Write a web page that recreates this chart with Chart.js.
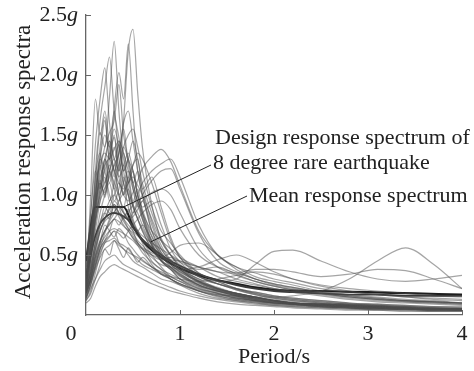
<!DOCTYPE html>
<html>
<head>
<meta charset="utf-8">
<script src="https://cdn.jsdelivr.net/npm/chart.js"></script>
<style>
  html,body{margin:0;padding:0;background:#fff}
  #wrap{width:474px;height:371px}
</style>
</head>
<body>
<div id="wrap"><canvas id="c" width="474" height="371"></canvas></div>
<script>
/* ---------- data ---------- */
const periods = [0,0.05,0.1,0.15,0.2,0.25,0.3,0.35,0.4,0.45,0.5,0.55,0.6,0.7,0.8,0.9,1.0,1.2,1.4,1.6,1.8,2.0,2.2,2.5,2.8,3.1,3.4,3.7,4.0];

// single record spectra (grey), one row per ground motion, values in g
const spectra = [
  [0.30,0.52,0.85,1.10,1.02,1.30,1.48,1.25,1.62,2.20,2.38,1.85,1.40,0.92,0.62,0.50,0.40,0.30,0.22,0.18,0.15,0.12,0.10,0.09,0.08,0.07,0.06,0.05,0.05],
  [0.25,0.62,1.10,1.52,1.40,1.82,2.28,1.70,1.30,1.12,0.92,0.80,0.70,0.55,0.45,0.38,0.30,0.22,0.18,0.14,0.12,0.10,0.09,0.08,0.07,0.06,0.05,0.05,0.04],
  [0.32,0.70,1.00,1.32,1.62,1.30,1.72,2.02,1.80,2.26,1.70,1.20,1.00,0.70,0.52,0.42,0.35,0.25,0.20,0.16,0.13,0.11,0.10,0.08,0.07,0.06,0.06,0.05,0.05],
  [0.20,0.50,1.20,1.62,1.90,2.15,1.70,1.48,1.20,1.00,0.80,0.70,0.62,0.50,0.40,0.32,0.28,0.20,0.16,0.13,0.11,0.09,0.08,0.07,0.06,0.05,0.05,0.04,0.04],
  [0.26,0.82,1.42,1.80,2.06,1.60,1.30,1.42,1.10,0.90,0.76,0.70,0.60,0.45,0.38,0.30,0.26,0.20,0.15,0.12,0.10,0.09,0.08,0.07,0.06,0.05,0.05,0.04,0.04],
  [0.20,1.00,1.80,1.50,1.70,1.40,1.20,1.00,0.86,0.80,0.70,0.60,0.55,0.42,0.34,0.30,0.25,0.18,0.14,0.12,0.10,0.08,0.07,0.06,0.05,0.05,0.04,0.04,0.04],
  [0.30,0.55,0.92,1.20,1.40,1.52,1.62,1.92,1.50,1.30,1.20,1.00,0.85,0.60,0.45,0.38,0.30,0.23,0.18,0.15,0.12,0.10,0.09,0.08,0.07,0.06,0.05,0.05,0.05],
  [0.20,0.30,0.50,0.70,0.80,0.90,1.00,1.10,1.00,0.95,1.02,1.12,1.22,1.32,1.38,1.28,1.08,0.70,0.50,0.40,0.32,0.28,0.25,0.20,0.17,0.15,0.13,0.12,0.10],
  [0.15,0.25,0.40,0.55,0.62,0.70,0.80,0.75,0.82,0.86,0.92,1.00,1.10,1.20,1.26,1.30,1.15,0.75,0.50,0.40,0.35,0.30,0.27,0.22,0.19,0.17,0.15,0.14,0.13],
  [0.25,0.60,0.90,1.10,1.00,1.20,1.30,1.20,1.40,1.50,1.55,1.40,1.20,0.90,0.70,0.60,0.50,0.35,0.28,0.22,0.18,0.15,0.13,0.11,0.09,0.08,0.07,0.06,0.06],
  [0.30,0.60,1.00,1.30,1.50,1.40,1.70,1.30,1.10,1.00,0.90,0.80,0.70,0.55,0.45,0.40,0.33,0.25,0.20,0.16,0.13,0.11,0.10,0.08,0.07,0.06,0.06,0.05,0.05],
  [0.12,0.20,0.35,0.50,0.60,0.65,0.70,0.60,0.55,0.50,0.45,0.42,0.40,0.35,0.30,0.28,0.25,0.20,0.16,0.13,0.11,0.10,0.09,0.08,0.07,0.06,0.05,0.05,0.04],
  [0.22,0.35,0.50,0.62,0.70,0.80,0.90,0.85,0.80,0.75,0.70,0.66,0.62,0.55,0.50,0.45,0.40,0.32,0.28,0.30,0.42,0.53,0.54,0.45,0.36,0.30,0.28,0.30,0.33],
  [0.18,0.30,0.45,0.60,0.75,0.70,0.65,0.72,0.68,0.60,0.55,0.50,0.46,0.40,0.35,0.30,0.26,0.20,0.17,0.16,0.15,0.15,0.16,0.20,0.30,0.45,0.56,0.42,0.22],
  [0.25,0.40,0.60,0.75,0.85,0.95,1.00,0.92,0.85,0.80,0.74,0.70,0.66,0.60,0.55,0.50,0.45,0.40,0.36,0.35,0.38,0.38,0.36,0.32,0.34,0.38,0.37,0.30,0.22],
  [0.20,0.35,0.55,0.70,0.80,0.88,0.92,0.85,0.80,0.72,0.66,0.60,0.55,0.50,0.48,0.52,0.58,0.60,0.50,0.38,0.30,0.25,0.22,0.18,0.15,0.13,0.12,0.11,0.10],
  [0.40,0.70,0.95,1.15,1.25,1.30,1.20,1.10,1.05,1.15,1.25,1.35,1.30,1.10,0.85,0.62,0.48,0.35,0.28,0.22,0.18,0.15,0.13,0.11,0.09,0.08,0.07,0.06,0.05],
  [0.14,0.22,0.30,0.38,0.45,0.48,0.50,0.46,0.42,0.40,0.38,0.36,0.34,0.30,0.26,0.23,0.20,0.16,0.13,0.11,0.09,0.08,0.07,0.06,0.05,0.04,0.04,0.03,0.03],
  [0.28,0.50,0.80,1.00,1.10,1.20,1.10,1.00,1.10,1.20,1.10,0.95,0.85,0.70,0.62,0.55,0.48,0.40,0.32,0.28,0.25,0.22,0.20,0.17,0.14,0.12,0.11,0.10,0.09],
  [0.22,0.35,0.55,0.70,0.78,0.82,0.86,0.90,0.85,0.80,0.82,0.88,0.95,1.02,1.05,1.00,0.85,0.55,0.40,0.33,0.28,0.24,0.21,0.18,0.15,0.13,0.12,0.11,0.10],
  [0.35,0.62,0.90,1.25,1.35,1.30,1.38,1.45,1.35,1.20,1.05,0.95,0.82,0.62,0.50,0.42,0.36,0.28,0.22,0.18,0.15,0.13,0.11,0.09,0.08,0.07,0.06,0.05,0.05],
  [0.18,0.30,0.45,0.58,0.65,0.70,0.72,0.70,0.68,0.65,0.62,0.58,0.55,0.48,0.42,0.40,0.38,0.40,0.46,0.50,0.44,0.36,0.30,0.24,0.20,0.17,0.15,0.13,0.12],
  [0.24,0.45,0.75,1.05,1.30,1.20,1.05,1.25,1.40,1.28,1.10,0.92,0.80,0.58,0.45,0.38,0.32,0.24,0.19,0.15,0.12,0.10,0.09,0.07,0.06,0.05,0.05,0.04,0.04],
  [0.16,0.28,0.42,0.55,0.68,0.78,0.85,0.95,1.02,1.10,1.15,1.08,1.00,0.80,0.62,0.50,0.42,0.32,0.26,0.22,0.19,0.16,0.14,0.12,0.10,0.09,0.08,0.07,0.06],
  [0.45,0.75,1.05,1.30,1.20,1.00,0.90,0.82,0.75,0.70,0.64,0.58,0.52,0.44,0.38,0.34,0.30,0.24,0.20,0.17,0.14,0.12,0.10,0.08,0.07,0.06,0.05,0.05,0.04],
  [0.20,0.32,0.48,0.60,0.70,0.75,0.80,0.78,0.74,0.70,0.64,0.60,0.56,0.52,0.48,0.46,0.45,0.40,0.36,0.30,0.26,0.22,0.19,0.16,0.13,0.11,0.10,0.09,0.08],
  [0.30,0.55,0.85,1.10,1.30,1.45,1.30,1.15,1.25,1.35,1.20,1.00,0.88,0.66,0.52,0.44,0.37,0.27,0.21,0.17,0.14,0.12,0.10,0.09,0.08,0.07,0.06,0.05,0.05],
  [0.18,0.28,0.40,0.52,0.60,0.62,0.64,0.60,0.58,0.55,0.50,0.46,0.42,0.38,0.34,0.32,0.30,0.28,0.30,0.33,0.36,0.34,0.30,0.25,0.22,0.20,0.18,0.16,0.15],
  [0.22,0.48,0.78,0.95,1.05,1.15,1.25,1.35,1.60,1.70,1.45,1.20,1.00,0.75,0.55,0.45,0.38,0.28,0.22,0.18,0.15,0.12,0.10,0.09,0.08,0.07,0.06,0.05,0.05],
  [0.13,0.25,0.38,0.48,0.55,0.58,0.62,0.58,0.55,0.52,0.50,0.48,0.45,0.40,0.36,0.32,0.28,0.22,0.18,0.14,0.12,0.10,0.09,0.07,0.06,0.05,0.05,0.04,0.04],
  [0.35,0.55,0.95,1.25,1.05,1.35,1.15,1.45,1.20,1.30,1.05,0.90,0.95,0.70,0.55,0.45,0.38,0.28,0.22,0.18,0.15,0.12,0.10,0.09,0.08,0.07,0.06,0.05,0.05],
  [0.18,0.40,0.70,0.95,1.15,0.95,1.10,1.25,1.00,1.15,0.95,1.05,0.85,0.65,0.50,0.40,0.34,0.25,0.20,0.16,0.13,0.11,0.09,0.08,0.07,0.06,0.05,0.05,0.04],
  [0.28,0.65,1.15,1.35,1.10,1.25,1.05,0.95,1.15,1.00,0.85,0.95,0.80,0.60,0.48,0.42,0.36,0.27,0.21,0.17,0.14,0.12,0.10,0.08,0.07,0.06,0.05,0.05,0.04],
  [0.22,0.45,0.80,1.00,1.25,1.45,1.20,1.35,1.55,1.25,1.10,1.20,1.05,0.78,0.58,0.46,0.38,0.28,0.22,0.18,0.15,0.12,0.10,0.09,0.08,0.07,0.06,0.05,0.05],
  [0.15,0.32,0.55,0.75,0.90,0.85,0.95,0.90,0.80,0.88,0.78,0.70,0.75,0.62,0.50,0.44,0.38,0.30,0.26,0.22,0.19,0.16,0.14,0.12,0.10,0.09,0.08,0.07,0.07],
  [0.40,0.85,1.20,1.05,1.30,1.10,1.25,1.00,0.90,1.05,0.90,0.80,0.72,0.58,0.46,0.40,0.34,0.26,0.21,0.17,0.14,0.12,0.10,0.09,0.08,0.07,0.06,0.05,0.05],
  [0.20,0.36,0.62,0.85,1.00,1.10,0.95,1.05,1.25,1.10,1.25,1.30,1.05,1.15,0.90,0.65,0.48,0.33,0.26,0.21,0.17,0.14,0.12,0.10,0.09,0.08,0.07,0.06,0.05],
  [0.26,0.50,0.88,1.12,0.98,1.20,1.40,1.15,1.00,1.10,1.20,1.00,0.90,0.95,0.75,0.55,0.44,0.32,0.26,0.21,0.17,0.14,0.12,0.10,0.09,0.08,0.07,0.06,0.05],
  [0.18,0.30,0.48,0.62,0.70,0.76,0.80,0.85,0.82,0.80,0.85,0.92,1.00,1.12,1.20,1.22,1.05,0.68,0.45,0.36,0.30,0.26,0.23,0.19,0.16,0.14,0.12,0.11,0.10],
  [0.14,0.26,0.42,0.55,0.62,0.66,0.70,0.68,0.64,0.70,0.75,0.80,0.85,0.92,0.95,0.88,0.72,0.50,0.40,0.35,0.30,0.26,0.23,0.19,0.16,0.14,0.12,0.11,0.10],
  [0.12,0.18,0.30,0.42,0.55,0.50,0.62,0.55,0.48,0.56,0.50,0.44,0.48,0.40,0.34,0.30,0.26,0.21,0.17,0.14,0.12,0.10,0.09,0.07,0.06,0.05,0.05,0.04,0.04],
  [0.32,0.58,0.98,1.40,1.65,1.30,1.50,1.20,1.35,1.05,0.92,0.85,0.75,0.58,0.46,0.39,0.33,0.25,0.20,0.16,0.13,0.11,0.09,0.08,0.07,0.06,0.05,0.05,0.04],
  [0.22,0.38,0.60,0.78,0.85,0.80,0.92,0.85,0.78,0.72,0.68,0.62,0.58,0.50,0.46,0.48,0.44,0.38,0.40,0.34,0.28,0.24,0.21,0.18,0.15,0.13,0.11,0.10,0.09],
  [0.10,0.14,0.24,0.32,0.36,0.40,0.42,0.40,0.38,0.36,0.34,0.32,0.30,0.26,0.23,0.20,0.18,0.14,0.11,0.09,0.08,0.07,0.06,0.05,0.04,0.04,0.03,0.03,0.03],
  [0.28,0.52,0.82,1.05,1.20,1.35,1.55,1.40,1.20,1.30,1.45,1.30,1.10,0.85,0.64,0.50,0.40,0.29,0.23,0.18,0.15,0.12,0.10,0.09,0.08,0.07,0.06,0.05,0.05]
];

const meanValues = [0.30,0.50,0.66,0.76,0.81,0.84,0.85,0.84,0.82,0.79,0.73,0.68,0.63,0.56,0.50,0.45,0.41,0.34,0.29,0.25,0.22,0.20,0.19,0.18,0.17,0.17,0.16,0.16,0.16];

const designT   = [0,0.1,0.4,0.5,0.6,0.7,0.8,0.9,1.0,1.2,1.4,1.6,1.8,2.0,2.5,3.0,3.5,4.0];
const designVal = [0.45,0.90,0.90,0.74,0.62,0.54,0.48,0.43,0.39,0.33,0.29,0.26,0.23,0.21,0.20,0.19,0.18,0.17];

const xTicks = [1,2,3,4];
const yTicks = [0.5,1.0,1.5,2.0,2.5];

const FONT = '"Liberation Serif","Times New Roman",serif';
const pts = (xs,ys)=>xs.map((x,i)=>({x:x,y:ys[i]}));

/* ---------- datasets ---------- */
const sets = spectra.map(r=>({
  data: pts(periods,r), borderColor:'rgba(75,75,75,0.5)', borderWidth:1.2,
  pointRadius:0, cubicInterpolationMode:'monotone', fill:false
}));
sets.push({data:pts(periods,meanValues), borderColor:'#3a3a3a', borderWidth:1.8, pointRadius:0, cubicInterpolationMode:'monotone'});
sets.push({data:pts(designT,designVal), borderColor:'#1e1e1e', borderWidth:2.2, pointRadius:0, cubicInterpolationMode:'monotone'});

/* ---------- decorations: ticks, labels, notes ---------- */
const deco = {
  id:'deco',
  afterDraw(ch){
    const c=ch.ctx, xs=ch.scales.x, ys=ch.scales.y;
    const x0=xs.getPixelForValue(0), y0=ys.getPixelForValue(0);
    c.save();
    c.strokeStyle='#666'; c.lineWidth=1;
    // inward tick marks
    xTicks.forEach(t=>{const px=Math.round(xs.getPixelForValue(t))+0.5; c.beginPath(); c.moveTo(px,y0); c.lineTo(px,y0-5); c.stroke();});
    yTicks.forEach(t=>{const py=Math.round(ys.getPixelForValue(t))+0.5; c.beginPath(); c.moveTo(x0,py); c.lineTo(x0+5,py); c.stroke();});

    c.fillStyle='#222';
    // y labels with italic g
    c.textBaseline='middle';
    yTicks.forEach(t=>{
      const py=ys.getPixelForValue(t);
      c.font='italic 22px '+FONT; const gw=c.measureText('g').width;
      c.textAlign='right'; c.fillText('g',x0-8,py);
      c.font='22px '+FONT; c.fillText(t.toFixed(1),x0-8-gw,py);
    });
    // x labels
    c.font='22px '+FONT; c.textAlign='center';
    c.fillText('0',x0-15,y0+19);
    xTicks.forEach(t=>c.fillText(String(t),xs.getPixelForValue(t),y0+19));
    // axis titles
    c.fillText('Period/s',(xs.left+xs.right)/2,y0+42);
    c.save(); c.translate(24,162); c.rotate(-Math.PI/2);
    c.font='23px '+FONT;
    c.fillText('Acceleration response spectra',0,0); c.restore();

    // notes
    c.textAlign='left';
    c.font='22px '+FONT;
    c.fillText('Design response spectrum of',215,138);
    c.fillText('8 degree rare earthquake',213,163);
    c.fillText('Mean response spectrum',249,196);
    c.strokeStyle='#222'; c.lineWidth=1;
    c.beginPath(); c.moveTo(211,165); c.lineTo(xs.getPixelForValue(0.4),ys.getPixelForValue(0.9)); c.stroke();
    c.beginPath(); c.moveTo(247,196); c.lineTo(xs.getPixelForValue(0.69),ys.getPixelForValue(0.61)); c.stroke();
    c.restore();
  }
};

new Chart(document.getElementById('c'),{
  type:'line',
  data:{datasets:sets},
  options:{
    responsive:false, animation:false, devicePixelRatio:1,
    layout:{padding:{left:78,right:12,top:15,bottom:48}},
    plugins:{legend:{display:false},tooltip:{enabled:false}},
    scales:{
      x:{type:'linear',min:0,max:4,ticks:{display:false},grid:{display:false},border:{display:true,color:'#666',width:1.3}},
      y:{min:0,max:2.5,ticks:{display:false},grid:{display:false},border:{display:true,color:'#666',width:1.3}}
    }
  },
  plugins:[deco]
});
</script>
</body>
</html>
